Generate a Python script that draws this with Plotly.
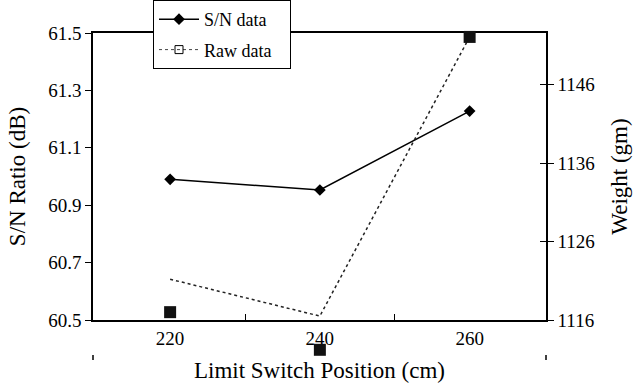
import plotly.graph_objects as go

positions = [220, 240, 260]
sn_ratio = [60.99, 60.953, 61.228]
raw_weight = [1117.0, 1112.2, 1152.1]
raw_trend = [1121.2, 1116.5, 1152.1]

FONT = "Liberation Serif, Times New Roman, serif"

# layout geometry (pixels)
W, H = 636, 386
L, R, T, B = 93, 90, 33, 10
plot_bottom_px = 320
paper_h = H - T - B
y_dom0 = (H - B - plot_bottom_px) / paper_h

w_lo, w_hi = 1116, 1152.6
gm_per_px = (w_hi - w_lo) / (plot_bottom_px - T)
w_ext_lo = w_lo - (H - B - plot_bottom_px) * gm_per_px

NB = "\u00a0"

fig = go.Figure()
fig.add_trace(go.Scatter(
    x=positions, y=raw_weight, name="Raw data", mode="markers",
    marker=dict(symbol="square", size=12, color="#111111"),
    xaxis="x", yaxis="y4", showlegend=False, cliponaxis=False,
))
fig.add_trace(go.Scatter(
    x=positions, y=sn_ratio, name="S/N data" + NB * 4, mode="lines+markers",
    line=dict(color="black", width=1.5),
    marker=dict(symbol="diamond", size=9, color="black"),
    cliponaxis=False, legendgroup="a",
))
fig.add_trace(go.Scatter(
    x=positions, y=raw_trend, name="Raw data", mode="lines",
    line=dict(color="#222222", width=1.5, dash="dot"),
    yaxis="y2", showlegend=False, cliponaxis=False,
))
# legend entry for raw data
fig.add_trace(go.Scatter(
    x=[None], y=[None], name="Raw data", mode="lines+markers",
    line=dict(color="#444444", width=1, dash="dot"),
    marker=dict(symbol="square-open", size=8, color="black", line=dict(width=1)),
    yaxis="y2", legendgroup="b",
))
fig.add_trace(go.Scatter(x=[None], y=[None], yaxis="y3", showlegend=False, hoverinfo="skip"))

fig.update_layout(
    width=W, height=H,
    margin=dict(l=L, r=R, t=T, b=B, autoexpand=False),
    paper_bgcolor="white", plot_bgcolor="rgba(0,0,0,0)",
    font=dict(family=FONT, size=19, color="black"),
    showlegend=True,
    legend=dict(
        x=(153 - L) / (W - L - R), y=(H - B - 0) / paper_h,
        xanchor="left", yanchor="top",
        bgcolor="white", bordercolor="black", borderwidth=1,
        font=dict(family=FONT, size=18), itemwidth=40,
        tracegroupgap=4,
    ),
    xaxis=dict(
        range=[209.7, 270.2], tickvals=positions, ticktext=[str(p) for p in positions],
        ticks="", showgrid=False, zeroline=False, anchor="y",
        showline=True, linecolor="black", linewidth=1.5, mirror=True,
        ticklabelstandoff=0, automargin=False,
        minor=dict(tickvals=[230, 250], ticks="inside", ticklen=6, tickcolor="black"),
        title=dict(text="Limit Switch Position (cm)", font=dict(size=23), standoff=14),
    ),
    yaxis=dict(
        domain=[y_dom0, 1],
        range=[60.5, 61.5], tickvals=[60.5, 60.7, 60.9, 61.1, 61.3, 61.5],
        tickformat=".1f", ticks="outside", ticklen=6, tickcolor="black",
        showgrid=False, zeroline=False, automargin=False,
        showline=True, linecolor="black", linewidth=1.5,
        title=dict(text="S/N Ratio (dB)", font=dict(size=23), standoff=16),
    ),
    yaxis2=dict(
        domain=[y_dom0, 1],
        range=[w_lo, w_hi], tickvals=[1116, 1126, 1136, 1146],
        overlaying="y", side="right", ticks="outside", ticklen=6, tickcolor="black",
        showgrid=False, zeroline=False, automargin=False,
        showline=True, linecolor="black", linewidth=1.5,
        title=dict(text="Weight (gm)", font=dict(size=23), standoff=17),
    ),
    yaxis3=dict(
        domain=[y_dom0, 1],
        range=[w_lo, w_hi], tickvals=[1126, 1136, 1146],
        overlaying="y", side="right", ticks="inside", ticklen=6, tickcolor="black",
        showticklabels=False, showgrid=False, zeroline=False, showline=False,
    ),
    yaxis4=dict(
        domain=[0, 1], anchor="x",
        range=[w_ext_lo, w_hi], visible=False,
        showgrid=False, zeroline=False,
    ),
)

# small tick marks under the axis at the range ends
for xp in [0.0, 1.0]:
    fig.add_shape(type="line", xref="paper", yref="paper",
                  x0=xp, x1=xp, y0=(H - B - 355) / paper_h, y1=(H - B - 360) / paper_h,
                  line=dict(color="black", width=1.5))

fig.write_html("out.html")
